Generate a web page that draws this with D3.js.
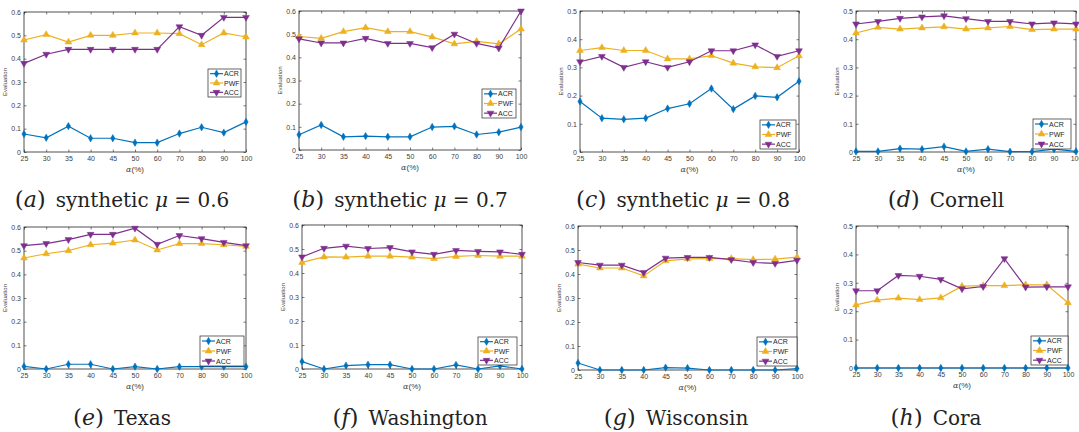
<!DOCTYPE html>
<html>
<head>
<meta charset="utf-8">
<script src="https://cdn.jsdelivr.net/npm/d3@7"></script>
<style>
body { margin: 0; background: #fff; }
svg { display: block; }
.cap { font-family: "DejaVu Serif", serif; }
</style>
</head>
<body>
<svg id="chart" width="1079" height="432"></svg>
<script>
var alphaTicks = ["25","30","35","40","45","50","60","70","80","90","100"];
var seriesNames = ["ACR","PWF","ACC"];

var acr_a = [0.077,0.061,0.111,0.059,0.059,0.040,0.040,0.079,0.106,0.083,0.129];
var pwf_a = [0.480,0.503,0.471,0.500,0.500,0.510,0.510,0.507,0.460,0.510,0.493];
var acc_a = [0.380,0.419,0.440,0.440,0.440,0.440,0.440,0.537,0.500,0.577,0.577];

var acr_b = [0.066,0.108,0.057,0.060,0.057,0.057,0.099,0.102,0.067,0.077,0.099];
var pwf_b = [0.490,0.482,0.511,0.528,0.511,0.511,0.488,0.458,0.469,0.458,0.522];
var acc_b = [0.480,0.462,0.462,0.482,0.460,0.460,0.442,0.500,0.460,0.440,0.600];

var acr_c = [0.179,0.120,0.116,0.120,0.154,0.171,0.225,0.152,0.199,0.194,0.251];
var pwf_c = [0.360,0.370,0.360,0.360,0.330,0.330,0.342,0.315,0.302,0.299,0.341];
var acc_c = [0.320,0.339,0.300,0.320,0.300,0.320,0.359,0.359,0.380,0.339,0.359];

var acr_d = [0.002,0.002,0.012,0.010,0.019,0.002,0.010,0.001,0.001,0.010,0.002];
var pwf_d = [0.422,0.442,0.436,0.440,0.444,0.436,0.440,0.445,0.434,0.436,0.436];
var acc_d = [0.454,0.463,0.474,0.479,0.483,0.473,0.463,0.463,0.454,0.458,0.454];

var acr_e = [0.011,0.000,0.020,0.020,0.000,0.010,0.000,0.010,0.010,0.010,0.010];
var pwf_e = [0.469,0.487,0.500,0.525,0.532,0.545,0.503,0.530,0.530,0.525,0.518];
var acc_e = [0.521,0.530,0.547,0.569,0.569,0.595,0.527,0.564,0.551,0.535,0.521];

var acr_f = [0.031,0.000,0.014,0.018,0.018,0.000,0.000,0.017,0.000,0.013,0.000];
var pwf_f = [0.444,0.467,0.466,0.470,0.470,0.466,0.460,0.469,0.473,0.470,0.470];
var acc_f = [0.467,0.503,0.512,0.502,0.506,0.488,0.478,0.494,0.490,0.488,0.478];

var acr_g = [0.029,0.000,0.000,0.000,0.010,0.008,0.000,0.000,0.000,0.000,0.006];
var pwf_g = [0.441,0.425,0.425,0.392,0.455,0.463,0.464,0.464,0.460,0.462,0.470];
var acc_g = [0.448,0.437,0.437,0.406,0.466,0.469,0.469,0.460,0.448,0.444,0.457];

var acr_h = [0,0,0,0,0,0,0,0,0,0,0];
var pwf_h = [0.222,0.239,0.246,0.241,0.247,0.288,0.290,0.290,0.293,0.293,0.230];
var acc_h = [0.272,0.272,0.326,0.323,0.312,0.279,0.287,0.385,0.285,0.286,0.286];

var yTicks6 = [0,0.1,0.2,0.3,0.4,0.5,0.6];
var yTicks5 = [0,0.1,0.2,0.3,0.4,0.5];

var captionLetters = ["a","b","c","d","e","f","g","h"];
var captionNames = ["synthetic", "synthetic", "synthetic", "Cornell", "Texas", "Washington", "Wisconsin", "Cora"];
var captionMu = ["0.6","0.7","0.8",null,null,null,null,null];

var colors = ["#0072BD","#EDB120","#7E2F8E"];

// layout only: plot box, legend box, caption centre
var panels = [
  {d:[acr_a,pwf_a,acc_a], ticks:yTicks6, box:[24,12,246,152],  leg:[208,69,33,28],  cap:122},
  {d:[acr_b,pwf_b,acc_b], ticks:yTicks6, box:[299,11,521,150], leg:[482,89,34,29],  cap:400},
  {d:[acr_c,pwf_c,acc_c], ticks:yTicks5, box:[580,11,799,152], leg:[760,120,36,29], cap:683},
  {d:[acr_d,pwf_d,acc_d], ticks:yTicks5, box:[856,11,1076,152],leg:[1033,119,38,30],cap:946},
  {d:[acr_e,pwf_e,acc_e], ticks:yTicks6, box:[24,227,246,369], leg:[200,336,44,30], cap:122},
  {d:[acr_f,pwf_f,acc_f], ticks:yTicks6, box:[302,225,522,369],leg:[478,337,39,28], cap:410},
  {d:[acr_g,pwf_g,acc_g], ticks:yTicks6, box:[578,226,797,370],leg:[757,337,40,29], cap:676},
  {d:[acr_h,pwf_h,acc_h], ticks:yTicks5, box:[856,226,1068,368],leg:[1031,336,37,29],cap:936}
];

var svg = d3.select("#chart");
var symbols = [
  d3.symbol().type(d3.symbolDiamond).size(16),
  d3.symbol().type(d3.symbolTriangle).size(20),
  d3.symbol().type(d3.symbolTriangle).size(20)
];

panels.forEach(function(p, pi) {
  var L = p.box[0], T = p.box[1], R = p.box[2], B = p.box[3];
  var x = d3.scalePoint().domain(alphaTicks).range([L, R]);
  var yMax = p.ticks[p.ticks.length - 1];
  var y = d3.scaleLinear().domain([0, yMax]).range([B, T]);
  var g = svg.append("g");

  g.append("rect").attr("x", L).attr("y", T).attr("width", R - L).attr("height", B - T)
    .attr("fill", "#fff").attr("stroke", "#262626").attr("stroke-width", 0.8);

  // axes with inward ticks
  g.append("g").attr("transform", "translate(0," + B + ")")
    .call(d3.axisBottom(x).tickSizeInner(-2.5).tickSizeOuter(0).tickPadding(4));
  g.append("g").attr("transform", "translate(" + L + ",0)")
    .call(d3.axisLeft(y).tickValues(p.ticks).tickFormat(d3.format("")).tickSizeInner(-2.5).tickSizeOuter(0).tickPadding(3));
  g.append("g").attr("transform", "translate(0," + T + ")")
    .call(d3.axisTop(x).tickSizeInner(-2.5).tickSizeOuter(0).tickFormat(""));
  g.append("g").attr("transform", "translate(" + R + ",0)")
    .call(d3.axisRight(y).tickValues(p.ticks).tickSizeInner(-2.5).tickSizeOuter(0).tickFormat(""));
  g.selectAll(".domain").remove();
  g.selectAll(".tick line").attr("stroke", "#262626").attr("stroke-width", 0.6);
  g.selectAll(".tick text").attr("fill", "#404040").style("font-family", "Liberation Sans, Arial, sans-serif").style("font-size", "7px");

  g.append("text")
    .attr("transform", "translate(" + (L - 17) + "," + ((T + B) / 2) + ") rotate(-90)")
    .attr("text-anchor", "middle")
    .style("font-family", "Liberation Sans, Arial, sans-serif").style("font-size", "6px")
    .attr("fill", "#404040").text("Evaluation");

  var xl = g.append("text").attr("class", "cap").attr("x", (L + R) / 2).attr("y", B + 20)
    .attr("text-anchor", "middle").attr("fill", "#404040")
    .style("font-size", "8px");
  xl.append("tspan").style("font-style", "italic").text("α");
  xl.append("tspan").style("font-family", "Liberation Sans, Arial, sans-serif").text("(%)");

  var line = d3.line().x(function(d, i) { return x(alphaTicks[i]); }).y(function(d) { return y(d); });

  p.d.forEach(function(vals, si) {
    g.append("path").datum(vals).attr("d", line)
      .attr("fill", "none").attr("stroke", colors[si]).attr("stroke-width", 1.2);
    g.selectAll(".m" + si).data(vals).enter().append("path")
      .attr("d", symbols[si])
      .attr("transform", function(d, i) {
        return "translate(" + x(alphaTicks[i]) + "," + y(d) + ")" + (si === 2 ? " rotate(180)" : "");
      })
      .attr("fill", colors[si]).attr("stroke", colors[si]).attr("stroke-width", 0.5);
  });

  // legend
  var lx = p.leg[0], ly = p.leg[1], lw = p.leg[2], lh = p.leg[3];
  var lg = g.append("g");
  lg.append("rect").attr("x", lx).attr("y", ly).attr("width", lw).attr("height", lh)
    .attr("fill", "#fff").attr("stroke", "#262626").attr("stroke-width", 0.7);
  seriesNames.forEach(function(name, si) {
    var yy = ly + lh * (si * 2 + 1) / 6;
    lg.append("line").attr("x1", lx + 2).attr("x2", lx + 15).attr("y1", yy).attr("y2", yy)
      .attr("stroke", colors[si]).attr("stroke-width", 1.2);
    lg.append("path").attr("d", symbols[si])
      .attr("transform", "translate(" + (lx + 8.5) + "," + yy + ")" + (si === 2 ? " rotate(180)" : ""))
      .attr("fill", colors[si]).attr("stroke", colors[si]).attr("stroke-width", 0.5);
    lg.append("text").attr("x", lx + 16).attr("y", yy + 2.5)
      .style("font-family", "Liberation Sans, Arial, sans-serif").style("font-size", "7px")
      .attr("fill", "#262626").text(name);
  });

  // caption
  var cy = pi < 4 ? 207 : 425;
  var cap = svg.append("text").attr("class", "cap").attr("x", p.cap).attr("y", cy).attr("text-anchor", "middle")
    .style("font-size", "20px").attr("fill", "#222");
  cap.append("tspan").style("font-size", "23px").text("(");
  cap.append("tspan").style("font-style", "italic").style("font-size", "22px").text(captionLetters[pi]);
  cap.append("tspan").style("font-size", "23px").text(")");
  cap.append("tspan").text("\u2002" + captionNames[pi]);
  if (captionMu[pi] !== null) {
    cap.append("tspan").text(" ");
    cap.append("tspan").style("font-style", "italic").text("μ");
    cap.append("tspan").text(" = " + captionMu[pi]);
  }
});
</script>
</body>
</html>
